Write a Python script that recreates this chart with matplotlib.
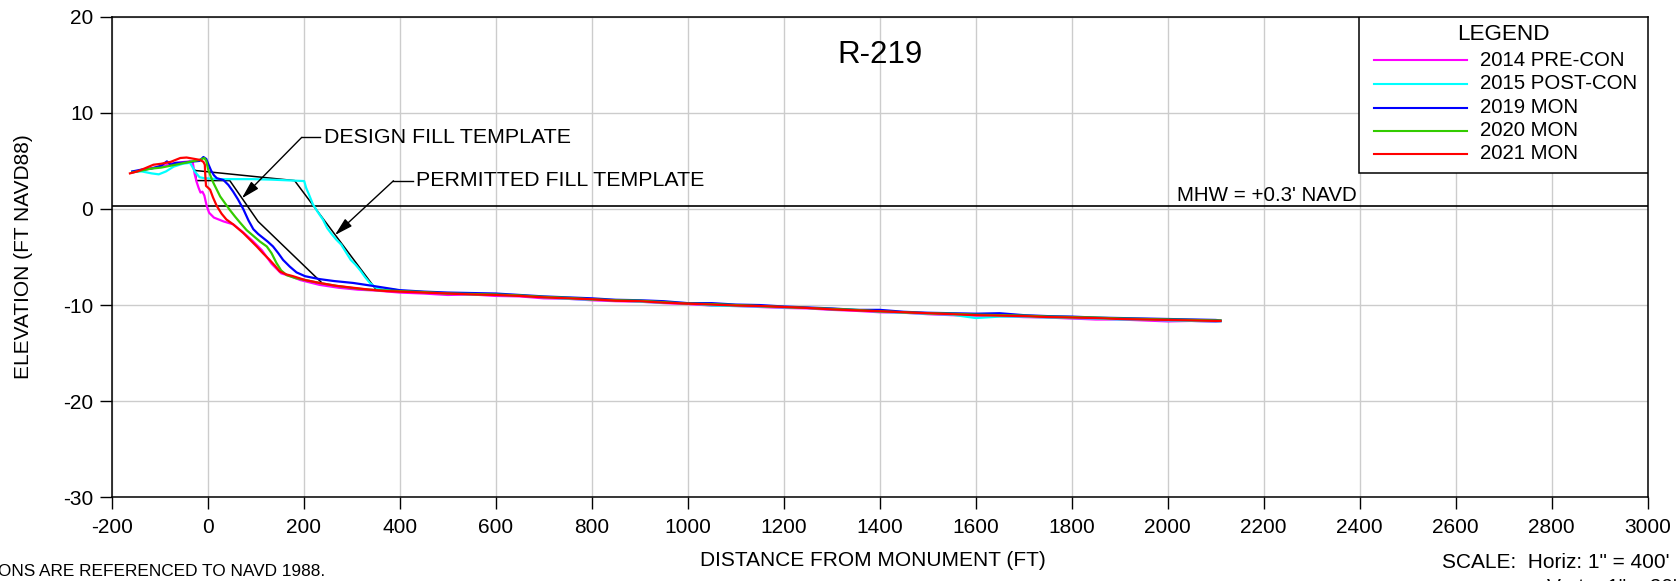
import numpy as np
import matplotlib
matplotlib.use("Agg")
import matplotlib.pyplot as plt
from matplotlib.patches import Rectangle
from matplotlib import font_manager

plt.rcParams['font.family'] = ['Liberation Sans', 'DejaVu Sans']
plt.rcParams['axes.unicode_minus'] = False

# profile R-219, distance (ft) / elevation (ft NAVD88)
labels = ['2014 PRE-CON', '2015 POST-CON', '2019 MON', '2020 MON', '2021 MON']
colors = ['#ff00ff', '#00ffff', '#0000ff', '#33cc00', '#ff0000']

# nearshore part of each survey
x14 = [-157, -137, -117, -97, -77, -57, -37, -31, -27, -23, -19, -15, -11, -7, -2, 3, 13, 23, 33, 53,
       73, 93, 113, 133, 153, 173, 193, 233, 273, 313, 353]
y14 = [3.8, 4.0, 4.25, 4.4, 4.7, 4.85, 4.95, 4.8, 3.6, 2.8, 2.2, 1.7, 1.8, 1.4, 0.3, -0.4, -0.9, -1.1, -1.3, -1.6,
       -2.4, -3.3, -4.3, -5.7, -6.7, -7.0, -7.4, -7.9, -8.2, -8.4, -8.5]

x15 = [-157, -137, -117, -102, -87, -71, -52, -37, -31, -27, -17, -7, 23, 53, 93, 133, 178, 201, 205, 211,
       219, 229, 240, 249, 258, 268, 278, 288, 298, 308, 318, 328, 338, 351, 365, 385]
y15 = [3.9, 3.9, 3.7, 3.6, 3.9, 4.4, 4.7, 4.8, 4.3, 3.9, 3.3, 3.2, 3.1, 3.1, 3.1, 3.05, 2.95, 2.9, 2.2, 1.5,
       0.5, -0.3, -1.1, -2.0, -2.6, -3.2, -3.7, -4.5, -5.3, -5.8, -6.4, -7.1, -7.7, -8.2, -8.4, -8.35]

x19 = [-157, -137, -117, -97, -85, -77, -67, -57, -37, -17, -9, -3, 1, 7, 13, 19, 33, 43, 53, 63,
       74, 85, 95, 105, 115, 125, 136, 147, 157, 171, 185, 203, 233, 263, 303, 343, 375]
y19 = [3.9, 4.1, 4.2, 4.5, 4.95, 4.6, 4.8, 4.8, 4.9, 5.0, 5.4, 5.2, 4.7, 4.0, 3.5, 3.2, 3.0, 2.5, 1.8, 1.0,
       0.0, -1.2, -2.1, -2.6, -3.0, -3.4, -3.9, -4.6, -5.3, -6.0, -6.6, -7.0, -7.3, -7.5, -7.7, -8.0, -8.25]

x20 = [-157, -137, -117, -97, -77, -57, -37, -17, -7, -3, 1, 7, 12, 19, 26, 36, 46, 57, 67, 81,
       95, 109, 123, 133, 143, 153, 165, 183, 199, 233, 268, 313, 353, 380]
y20 = [3.8, 4.0, 4.2, 4.3, 4.5, 4.7, 4.9, 5.1, 5.3, 5.0, 4.1, 3.3, 2.7, 2.0, 1.3, 0.6, -0.1, -0.8, -1.4, -2.2,
       -2.8, -3.4, -3.9, -4.6, -5.6, -6.4, -6.9, -7.2, -7.35, -7.7, -8.0, -8.3, -8.45, -8.5]

x21 = [-162, -147, -132, -113, -97, -77, -57, -44, -27, -16, -9, -6, -5, -3.5, 1, 5, 11, 19, 29, 39,
       53, 74, 88, 102, 115, 129, 140, 150, 163, 178, 203, 233, 268, 303, 338, 373]
y21 = [3.7, 3.9, 4.2, 4.6, 4.7, 4.9, 5.3, 5.35, 5.2, 5.1, 4.9, 4.6, 3.5, 2.4, 2.2, 2.0, 1.2, 0.3, -0.5, -1.1,
       -1.6, -2.5, -3.2, -3.9, -4.6, -5.3, -5.9, -6.5, -6.8, -7.0, -7.4, -7.7, -8.0, -8.2, -8.4, -8.55]

# offshore part, shared stations
x_off = [400, 450, 500, 550, 600, 650, 700, 750, 800, 850, 900, 950, 1000, 1050, 1100, 1150, 1200, 1250,
         1300, 1350, 1400, 1450, 1500, 1550, 1600, 1650, 1700, 1750, 1800, 1850, 1900, 1950, 2000, 2050, 2100, 2110]
off14 = [-8.7, -8.8, -8.95, -8.9, -9.05, -9.1, -9.3, -9.35, -9.5, -9.6, -9.65, -9.8, -9.9, -10.05, -10.1, -10.2,
         -10.3, -10.35, -10.5, -10.6, -10.75, -10.8, -10.95, -11.05, -11.1, -11.15, -11.25, -11.3, -11.4, -11.5,
         -11.5, -11.6, -11.7, -11.65, -11.75, -11.7]
off15 = [-8.5, -8.65, -8.8, -8.9, -8.95, -9.0, -9.2, -9.35, -9.45, -9.5, -9.65, -9.75, -9.8, -10.05, -10.1, -10.15,
         -10.25, -10.3, -10.45, -10.5, -10.7, -10.8, -10.9, -11.0, -11.35, -11.2, -11.2, -11.3, -11.35, -11.4,
         -11.5, -11.5, -11.6, -11.65, -11.7, -11.7]
off19 = [-8.45, -8.6, -8.7, -8.75, -8.8, -8.95, -9.1, -9.2, -9.3, -9.45, -9.5, -9.6, -9.8, -9.8, -9.95, -10.0,
         -10.15, -10.25, -10.35, -10.5, -10.5, -10.7, -10.8, -10.85, -10.9, -10.85, -11.05, -11.15, -11.2, -11.3,
         -11.35, -11.4, -11.45, -11.5, -11.55, -11.6]
off20 = [-8.55, -8.65, -8.8, -8.85, -8.9, -9.0, -9.15, -9.25, -9.4, -9.5, -9.55, -9.7, -9.85, -9.9, -10.0, -10.1,
         -10.2, -10.3, -10.4, -10.5, -10.65, -10.75, -10.85, -10.9, -11.0, -11.05, -11.1, -11.2, -11.25, -11.3,
         -11.4, -11.45, -11.5, -11.55, -11.6, -11.6]
off21 = [-8.6, -8.7, -8.8, -8.9, -8.95, -9.05, -9.2, -9.3, -9.4, -9.55, -9.6, -9.75, -9.85, -9.95, -10.05, -10.1,
         -10.2, -10.3, -10.45, -10.55, -10.65, -10.75, -10.85, -10.95, -11.05, -11.1, -11.15, -11.25, -11.3, -11.35,
         -11.45, -11.5, -11.55, -11.6, -11.65, -11.65]

# fill templates
design_x = [-26, -24, 46, 105, 236]
design_y = [4.0, 2.95, 2.95, -1.3, -7.6]
permit_x = [-26, 181, 351]
permit_y = [4.0, 2.95, -8.4]

mhw = 0.3

surveys = [(x14, y14, off14), (x15, y15, off15), (x19, y19, off19), (x20, y20, off20), (x21, y21, off21)]

W, H = 1679, 581
AX_L, AX_T, AX_W, AX_H = 111.7, 16.7, 1536.0, 480.6
fig = plt.figure(figsize=(W / 100, H / 100), dpi=100)
ax = fig.add_axes([AX_L / W, 1 - (AX_T + AX_H) / H, AX_W / W, AX_H / H])


def axx(px):
    return (px - AX_L) / AX_W


def axy(py):
    return (AX_T + AX_H - py) / AX_H


ax.set_xlim(-200, 3000)
ax.set_ylim(-30, 20)
ax.set_xticks(np.arange(-200, 3001, 200))
ax.set_yticks(np.arange(-30, 21, 10))
ax.grid(True, color='#cccccc', lw=1.0)
ax.set_axisbelow(True)
ax.tick_params(direction='out', length=8.9, width=1.0, labelsize=15)
ax.tick_params(axis='x', pad=6)
ax.tick_params(axis='y', pad=4.3)
for s in ax.spines.values():
    s.set_linewidth(1.1)

ax.axhline(mhw, color='black', lw=1.2, zorder=2)
ax.text(2020, 1.35, "MHW = +0.3' NAVD", fontsize=14.8, va='center', ha='left')

ax.plot(design_x, design_y, color='black', lw=1.1, zorder=3)
ax.plot(permit_x, permit_y, color='black', lw=1.1, zorder=3)

for (xs, ys, off), c, lab in zip(surveys, colors, labels):
    ax.plot(list(xs) + x_off, list(ys) + off, color=c, lw=1.6, label=lab, zorder=4)

# leaders
arrow = dict(arrowstyle='-|>,head_length=1.1,head_width=0.3', color='black', lw=1.0,
             shrinkA=0, shrinkB=0)
ax.plot([196, 234], [7.45, 7.45], color='black', lw=1.0)
ax.annotate('', xy=(71, 1.1), xytext=(196, 7.45), arrowprops=arrow, zorder=5)
ax.text(242, 7.45, 'DESIGN FILL TEMPLATE', fontsize=15.4, va='center', ha='left')

ax.plot([387, 428], [2.93, 2.93], color='black', lw=1.0)
ax.annotate('', xy=(265, -2.72), xytext=(387, 2.93), arrowprops=arrow, zorder=5)
ax.text(434, 2.93, 'PERMITTED FILL TEMPLATE', fontsize=15.4, va='center', ha='left')

ax.text(1400, 16.0, 'R-219', fontsize=22.5, ha='center', va='center')

# legend box
ax.add_patch(Rectangle((axx(1359), axy(172.7)), axx(1648) - axx(1359), axy(17) - axy(172.7),
                       transform=ax.transAxes, facecolor='white', edgecolor='black', lw=1.1, zorder=6))
ax.text(axx(1503), axy(35), 'LEGEND', transform=ax.transAxes, fontsize=16.2, ha='center', va='center', zorder=7)
rows = [60, 84, 107.5, 131, 154]
for ry, c, lab in zip(rows, colors, labels):
    ax.plot([axx(1374), axx(1467)], [axy(ry), axy(ry)], transform=ax.transAxes, color=c, lw=1.5, zorder=7)
    ax.text(axx(1480), axy(ry), lab, transform=ax.transAxes, fontsize=14.7, ha='left', va='center', zorder=7)

ax.set_xlabel('DISTANCE FROM MONUMENT (FT)', fontsize=15, va='center')
ax.xaxis.set_label_coords(axx(873), axy(561))
ax.set_ylabel('ELEVATION (FT NAVD88)', fontsize=15, va='center')
ax.yaxis.set_label_coords(axx(23.5), 0.5)

# note at lower left is set in a narrow face
names = {f.name for f in font_manager.fontManager.ttflist}
if 'Liberation Sans Narrow' in names:
    note_font = dict(family=['Liberation Sans Narrow', 'Liberation Sans'], fontsize=15)
else:
    note_font = dict(fontsize=12.4)
fig.text(325 / W, 1 - 571.7 / H, 'ALL ELEVATIONS ARE REFERENCED TO NAVD 1988.',
         ha='right', va='center', **note_font)
fig.text(1442 / W, 1 - 562 / H, 'SCALE:  Horiz: 1" = 400\'', fontsize=15, ha='left', va='center')
fig.text(1547 / W, 1 - 578 / H, 'Vert.:  1" = 20\'', fontsize=15, ha='left', va='top')

fig.savefig('out.png', dpi=100)
